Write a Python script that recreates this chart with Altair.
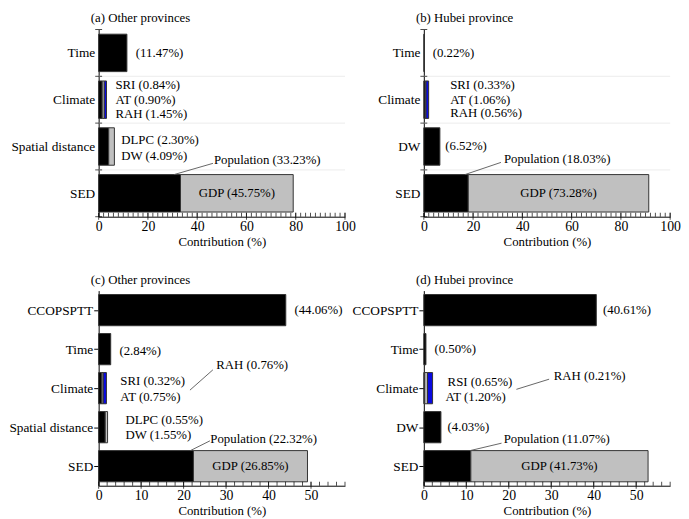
import altair as alt
import pandas as pd

# ---------------- data ----------------
A_CATEGORIES = ["Time", "Climate", "Spatial distance", "SED"]
A_SEG_CATEGORY = ["Time", "Climate", "Climate", "Climate", "Spatial distance", "Spatial distance", "SED", "SED"]
A_SEG_COMPONENT = ["Time", "RAH", "SRI", "AT", "DW", "DLPC", "Population", "GDP"]
A_SEG_VALUE = [11.47, 1.45, 0.84, 0.90, 4.09, 2.30, 33.23, 45.75]

B_CATEGORIES = ["Time", "Climate", "DW", "SED"]
B_SEG_CATEGORY = ["Time", "Climate", "Climate", "Climate", "DW", "SED", "SED"]
B_SEG_COMPONENT = ["Time", "RAH", "SRI", "AT", "DW", "Population", "GDP"]
B_SEG_VALUE = [0.22, 0.56, 0.33, 1.06, 6.52, 18.03, 73.28]

C_CATEGORIES = ["CCOPSPTT", "Time", "Climate", "Spatial distance", "SED"]
C_SEG_CATEGORY = ["CCOPSPTT", "Time", "Climate", "Climate", "Climate", "Spatial distance", "Spatial distance", "SED", "SED"]
C_SEG_COMPONENT = ["CCOPSPTT", "Time", "RAH", "SRI", "AT", "DW", "DLPC", "Population", "GDP"]
C_SEG_VALUE = [44.06, 2.84, 0.76, 0.32, 0.75, 1.55, 0.55, 22.32, 26.85]

D_CATEGORIES = ["CCOPSPTT", "Time", "Climate", "DW", "SED"]
D_SEG_CATEGORY = ["CCOPSPTT", "Time", "Climate", "Climate", "Climate", "DW", "SED", "SED"]
D_SEG_COMPONENT = ["CCOPSPTT", "Time", "RAH", "RSI", "AT", "DW", "Population", "GDP"]
D_SEG_VALUE = [40.61, 0.50, 0.21, 0.65, 1.20, 4.03, 11.07, 41.73]

TITLES = ["(a) Other provinces", "(b) Hubei province", "(c) Other provinces", "(d) Hubei province"]
X_TITLE = "Contribution (%)"

# ---------------- styles / layout ----------------
SERIF = "Liberation Serif"
COMP_NAMES = ["CCOPSPTT", "Time", "RAH", "SRI", "RSI", "AT", "DW", "DLPC", "Population", "GDP"]
COMP_COLORS = ["#000000", "#000000", "#000000", "#c0c0c0", "#c0c0c0", "#0a0ae0", "#000000", "#c0c0c0", "#000000", "#c0c0c0"]

# annotation placement: component -> (x in data units, vertical offset in band units); None -> centred in segment
A_LABEL_POS = {"Time": (15.1, 0.0), "SRI": (6.8, -0.32), "AT": (6.8, 0.0), "RAH": (6.8, 0.30),
               "DLPC": (9.2, -0.14), "DW": (9.2, 0.21), "Population": (46.8, -0.72), "GDP": (None, 0.0)}
A_LEADERS = [("SED", 30.6, -0.40, 46.4, -0.64)]
B_LABEL_POS = {"Time": (3.6, 0.0), "SRI": (10.7, -0.32), "AT": (10.7, 0.0), "RAH": (10.7, 0.28),
               "DW": (8.7, 0.0), "Population": (32.5, -0.74), "GDP": (None, 0.0)}
B_LEADERS = [("SED", 16.7, -0.40, 31.3, -0.66)]
C_LABEL_POS = {"CCOPSPTT": (46.1, 0.0), "Time": (4.9, 0.05), "RAH": (27.7, -0.60), "SRI": (5.1, -0.18),
               "AT": (5.1, 0.23), "DLPC": (6.3, -0.19), "DW": (6.3, 0.20), "Population": (26.3, -0.70),
               "GDP": (None, 0.0)}
C_LEADERS = [("Climate", 21.5, 0.05, 26.9, -0.47), ("SED", 21.6, -0.40, 26.2, -0.65)]
D_LABEL_POS = {"CCOPSPTT": (42.2, 0.0), "Time": (2.5, 0.0), "RAH": (30.6, -0.31), "RSI": (5.6, -0.16),
               "AT": (5.1, 0.23), "DW": (5.6, 0.0), "Population": (18.8, -0.70), "GDP": (None, 0.0)}
D_LEADERS = [("Climate", 21.8, 0.03, 29.5, -0.23), ("SED", 10.9, -0.40, 18.3, -0.59)]

W = 250
H_TOP = 190
H_BOTTOM = 198


def panel(cats, seg_cat, seg_comp, seg_val, title, xmax, major, height, label_pos, leaders, boundary_style):
    n = len(cats)
    pos = {c: i for i, c in enumerate(cats)}
    counts = {c: seg_cat.count(c) for c in cats}
    cum = {c: 0.0 for c in cats}
    rows, labs_left, labs_center = [], [], []
    for c, comp, v in zip(seg_cat, seg_comp, seg_val):
        s = cum[c]
        e = s + v
        cum[c] = e
        rows.append(dict(cat=c, comp=comp, value=v, start=s, end=e,
                         ylo=pos[c] - 0.4, yhi=pos[c] + 0.4))
        txt = f"({v:.2f}%)" if counts[c] == 1 else f"{comp} ({v:.2f}%)"
        lx, dy = label_pos[comp]
        if lx is None:
            labs_center.append(dict(t=txt, x=(s + e) / 2, y=pos[c] + dy))
        else:
            labs_left.append(dict(t=txt, x=lx, y=pos[c] + dy))
    bars = pd.DataFrame(rows)

    xscale = alt.Scale(domain=[0, xmax], nice=False, zero=False)
    yscale = alt.Scale(domain=[-0.5, n - 0.5], reverse=True, nice=False, zero=False)
    label_js = "[" + ",".join(f"'{c}'" for c in cats) + "][datum.value]"

    yaxis = alt.Axis(values=list(range(n)), labelExpr=label_js, grid=False, title=None,
                     ticks=(boundary_style == "center"), tickSize=5, tickColor="black",
                     labelPadding=(1 if boundary_style == "center" else 4),
                     labelFont=SERIF, labelFontSize=13.5, labelColor="black", domainColor="black")
    xaxis = alt.Axis(values=list(range(0, xmax + 1, major)), grid=False, ticks=False,
                     title=X_TITLE, labelPadding=3, titlePadding=2,
                     labelFont=SERIF, labelFontSize=14, labelColor="black",
                     titleFont=SERIF, titleFontSize=13, titleFontWeight="normal", titleColor="black",
                     domainColor="black", labelFlush=False)

    def X(f):
        return alt.X(f, scale=xscale, axis=xaxis, title=X_TITLE)

    def Y(f):
        return alt.Y(f, scale=yscale, axis=yaxis, title=None)

    layers = []
    bnd = pd.DataFrame({"b": [i - 0.5 for i in range(n + 1)]})
    if boundary_style == "extent":
        grid = alt.Chart(bnd[(bnd.b > -0.5) & (bnd.b < n - 0.5)]).mark_rule(
            color="#ececec", strokeWidth=1).encode(y=Y("b:Q"))
        layers.append(grid)

    bar = alt.Chart(bars).mark_bar(stroke="#333333", strokeWidth=1).encode(
        x=X("start:Q"),
        x2="end:Q",
        y=Y("ylo:Q"),
        y2="yhi:Q",
        color=alt.Color("comp:N", scale=alt.Scale(domain=COMP_NAMES, range=COMP_COLORS), legend=None),
    )
    layers.append(bar)

    minor = pd.DataFrame({"v": list(range(0, xmax + 1, 2))})
    majors = pd.DataFrame({"v": list(range(0, xmax + 1, major))})
    layers.append(alt.Chart(minor).mark_tick(orient="vertical", size=4, thickness=1, color="black").encode(
        x=X("v:Q"), y=alt.value(height - 2)))
    layers.append(alt.Chart(majors).mark_tick(orient="vertical", size=7, thickness=1, color="black").encode(
        x=X("v:Q"), y=alt.value(height - 0.5)))
    if boundary_style == "extent":
        layers.append(alt.Chart(bnd).mark_tick(orient="horizontal", size=7, thickness=1, color="black").encode(
            x=alt.value(0), y=Y("b:Q")))

    if leaders:
        ld = pd.DataFrame([dict(x=x1, x2=x2, y=pos[c] + y1, y2=pos[c] + y2) for c, x1, y1, x2, y2 in leaders])
        layers.append(alt.Chart(ld).mark_rule(color="#555555", strokeWidth=0.9).encode(
            x=X("x:Q"), x2="x2:Q", y=Y("y:Q"), y2="y2:Q"))

    layers.append(alt.Chart(pd.DataFrame(labs_left)).mark_text(
        align="left", baseline="middle", font=SERIF, fontSize=13, color="black").encode(
        x=X("x:Q"), y=Y("y:Q"), text="t:N"))
    layers.append(alt.Chart(pd.DataFrame(labs_center)).mark_text(
        align="center", baseline="middle", font=SERIF, fontSize=13, color="black").encode(
        x=X("x:Q"), y=Y("y:Q"), text="t:N"))

    return alt.layer(*layers).properties(
        width=W, height=height,
        title=alt.TitleParams(title, anchor="start", frame="group", dx=-8, offset=4,
                              font=SERIF, fontSize=13, fontWeight="normal", color="black"),
    )


pa = panel(A_CATEGORIES, A_SEG_CATEGORY, A_SEG_COMPONENT, A_SEG_VALUE, TITLES[0], 100, 20, H_TOP,
           A_LABEL_POS, A_LEADERS, "extent")
pb = panel(B_CATEGORIES, B_SEG_CATEGORY, B_SEG_COMPONENT, B_SEG_VALUE, TITLES[1], 100, 20, H_TOP,
           B_LABEL_POS, B_LEADERS, "extent")
pc = panel(C_CATEGORIES, C_SEG_CATEGORY, C_SEG_COMPONENT, C_SEG_VALUE, TITLES[2], 58, 10, H_BOTTOM,
           C_LABEL_POS, C_LEADERS, "center")
pd_ = panel(D_CATEGORIES, D_SEG_CATEGORY, D_SEG_COMPONENT, D_SEG_VALUE, TITLES[3], 58, 10, H_BOTTOM,
            D_LABEL_POS, D_LEADERS, "center")

chart = alt.concat(
    pa, pb, pc, pd_, columns=2, spacing={"row": 75, "column": 80}, bounds="flush",
).properties(padding=0, background="white").configure_view(stroke=None)

chart.save("out.html", embed_options={"renderer": "svg", "actions": False})
